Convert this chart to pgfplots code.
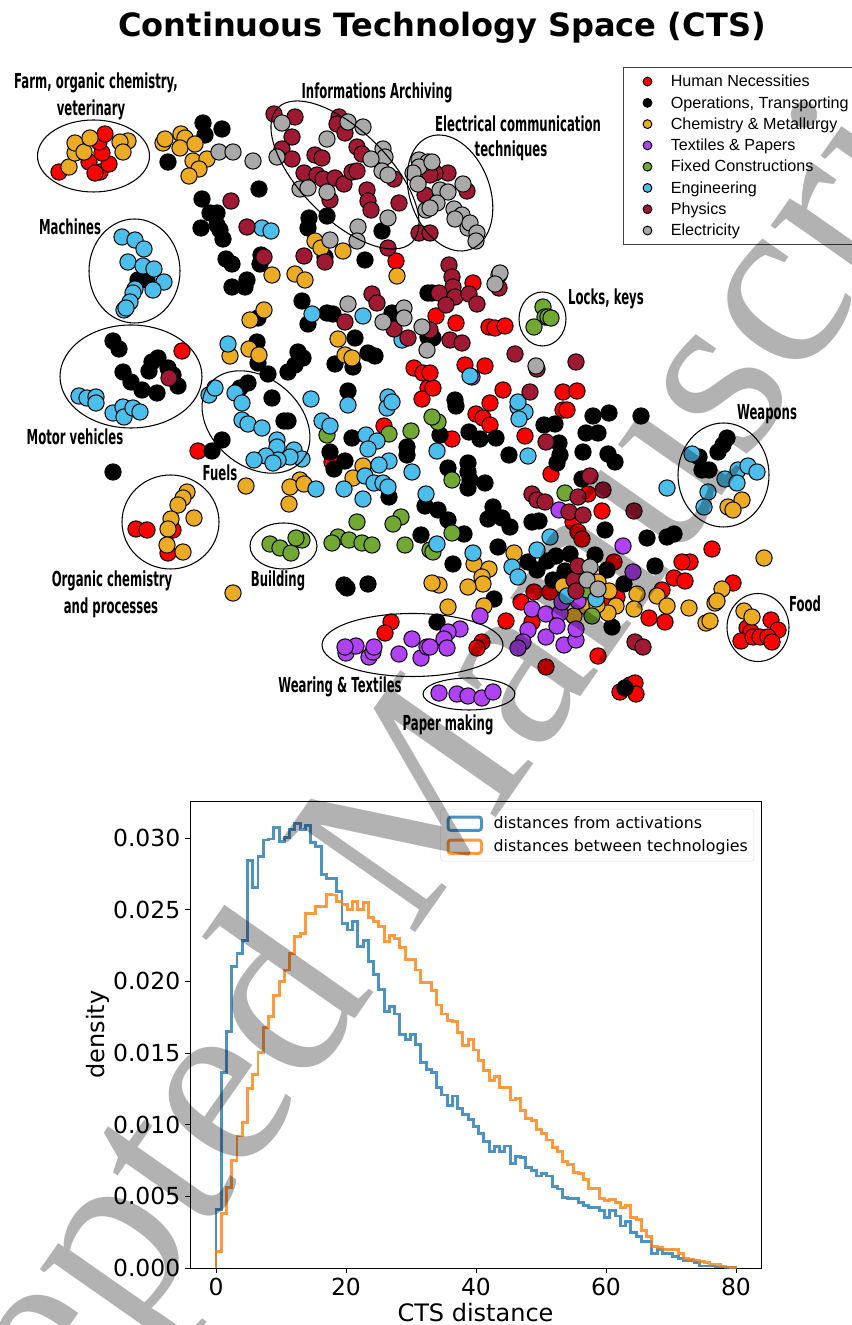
\documentclass[border=0pt]{standalone}
\usepackage{fontspec}
\usepackage{pgfplots}
\pgfplotsset{compat=1.18}
\setmainfont{DejaVu Sans}
\newfontfamily\labf[FakeStretch=0.565]{DejaVu Sans Bold}
\newfontfamily\legf{Liberation Sans}
\newfontfamily\wmf{Liberation Serif}
\definecolor{cRed}{HTML}{FF0000}
\definecolor{cOra}{HTML}{EBAC23}
\definecolor{cPur}{HTML}{B041F5}
\definecolor{cGre}{HTML}{70A832}
\definecolor{cBlu}{HTML}{4BBEEB}
\definecolor{cPhy}{HTML}{A01932}
\definecolor{cGra}{HTML}{A9A9A9}
\definecolor{hBlue}{HTML}{1F77B4}
\definecolor{hOrange}{HTML}{FF7F0E}
\newcommand{\leg}[1]{\makebox[190pt][l]{#1}}
\newcommand{\lab}[3]{\node[font=\labf\fontsize{15.5}{15.5}\selectfont,inner sep=0pt,yshift=-1.5pt] at (#1,#2) {#3};}
\newcommand{\ring}[5]{\draw[line width=0.8pt,shift={(#1,#2)},rotate=#5] (0,0) ellipse [x radius=#3,y radius=#4];}
\pgfplotsset{dots/.style={only marks,mark=*,mark size=6.1pt,mark options={fill=#1,draw=black,line width=0.75pt}}}
\begin{document}
\begin{tikzpicture}
\useasboundingbox (0,0) rectangle (639pt,993.75pt);
% scatter, in the pixel coordinates of the reference
\begin{axis}[
  at={(0,0)},anchor=south west,
  width=639pt,height=993.75pt,scale only axis,
  xmin=0,xmax=852,ymin=0,ymax=1325,y dir=reverse,
  hide axis,clip=false,
  legend image code/.code={\path[#1,draw=none,mark size=3.3pt] plot coordinates {(0pt,0pt)};\path[draw=none] (-10pt,0pt) -- (10pt,0pt);},
  legend cell align=left,
  legend style={at={(axis cs:623,67)},anchor=north west,font=\legf\fontsize{12.1}{12.1}\selectfont,
    draw=black!75,line width=0.7pt,fill=white,inner xsep=8pt,inner ysep=2.6pt,row sep=0pt,column sep=7.5pt,
    nodes={inner xsep=0pt,inner ysep=0pt,text height=11.9pt,text depth=4.06pt}},
]
\addplot[dots=cRed] coordinates {(59,172)(89,162)(100,172)(95,173)(109,164)(102,153)(99,142)(105,134)
(396,261)(182,351)(198,451)(414,368)(423,373)(428,388)(422,399)(384,426)(332,462)(136,529)(147,530)(173,530)(168,553)(391,622)(385,633)
(476,414)(483,418)(490,425)(490,403)(525,436)(563,410)(567,410)(452,439)(551,474)(588,494)(602,511)(573,522)(578,532)(582,539)
(473,283)(436,316)(456,323)(489,327)(495,328)(505,326)(465,365)(485,366)(503,390)(563,392)(577,391)(433,388)(430,373)
(712,549)(690,562)(682,562)(674,578)(685,581)(733,583)(662,590)(649,618)(665,622)
(771,620)(778,630)(747,628)(751,632)(741,641)(753,637)(760,637)(768,637)(772,642)
(506,621)(521,602)(534,592)(550,592)(532,622)(614,562)(617,597)(606,598)(598,656)(546,667)(482,642)(477,648)
(620,692)(630,685)(635,683)(636,694)};
\addlegendentry{\leg{Human Necessities}}
\addplot[dots=black] coordinates {(203,123)(205,135)(222,129)(168,162)(259,189)(202,199)(210,213)(217,213)(201,228)(217,225)(220,230)(223,239)(226,259)(232,264)(261,255)(260,264)(247,280)(232,287)(245,287)(302,301)(308,324)(327,313)(333,314)(392,313)(428,293)(428,337)(355,338)(335,364)(353,367)(368,353)(375,356)(348,391)(327,216)(309,218)(308,228)(382,231)(325,257)(365,260)(138,280)(147,280)
(113,341)(119,349)(152,362)(158,358)(149,371)(168,368)(173,375)(178,386)(123,372)(131,382)(142,390)(157,393)
(240,388)(248,383)(272,398)(268,374)(258,363)(257,342)(288,372)(295,365)(298,352)(303,358)(258,318)(284,421)(288,421)(222,440)(212,451)(330,452)(345,461)(334,469)(352,438)(407,447)(407,455)(389,497)(425,506)(421,535)(344,585)(347,588)(368,584)(113,472)
(456,406)(593,416)(609,413)(641,416)(544,425)(555,424)(586,433)(598,433)(440,435)(469,432)(480,439)(496,438)(559,443)(560,455)(557,463)(509,455)(583,452)(608,454)(615,462)(448,468)(468,463)(468,472)(470,480)(468,488)(485,483)(582,479)(605,530)(438,510)(448,520)(493,507)(488,519)(502,518)(510,527)(532,522)(539,521)(464,534)(498,547)(528,562)(537,570)(547,561)(556,556)(570,554)(595,555)(553,580)(565,571)(607,570)(624,584)(647,538)(667,537)(674,534)(655,566)
(727,438)(723,445)(718,452)(699,457)(702,470)(709,470)
(453,564)(494,599)(437,622)(612,627)(625,688)(432,293)(433,338)(455,400)};
\addlegendentry{\leg{Operations, Transporting}}
\addplot[dots=cOra] coordinates {(69,167)(75,153)(75,143)(84,152)(90,138)(128,141)(120,142)(123,152)
(163,143)(165,139)(181,134)(185,138)(180,148)(195,144)(193,161)(207,159)(199,169)(189,176)
(272,275)(295,274)(305,280)(338,339)(345,355)(352,358)(315,241)(321,248)(343,251)(397,276)(249,349)(259,355)(230,356)(250,320)(264,310)
(246,486)(300,480)(290,487)(304,484)(289,504)(363,466)(353,478)(233,593)
(187,492)(183,498)(178,505)(171,519)(194,518)(168,529)(167,545)(183,552)
(742,500)(728,507)(733,510)(764,558)(722,589)(715,603)(717,601)(689,608)(657,596)(667,606)(706,623)(710,621)(744,611)(752,617)
(514,553)(474,564)(489,569)(482,577)(483,584)(468,587)(439,585)(432,583)(484,606)(448,607)(574,616)(563,586)(598,582)(609,591)(616,606)(608,613)(587,607)(597,605)(637,594)(634,609)};
\addlegendentry{\leg{Chemistry \& Metallurgy}}
\addplot[dots=cPur] coordinates {(346,653)(356,646)(345,647)(369,657)(373,652)(374,647)(399,654)(412,639)(421,658)(427,647)(460,629)(448,632)(444,639)(447,648)(430,647)
(439,693)(457,694)(468,696)(482,698)(493,692)
(559,510)(623,546)(633,572)(480,616)(532,609)(546,614)(560,613)(562,602)(528,630)(523,642)(518,648)(546,637)(557,626)(564,645)(576,640)(576,629)(578,601)(472,377)};
\addlegendentry{\leg{Textiles \& Papers}}
\addplot[dots=cGre] coordinates {(543,307)(545,317)(548,317)(551,318)(534,327)
(327,435)(389,434)(411,431)(357,522)(401,517)(393,524)(405,545)(430,550)(338,537)(332,543)(349,540)(362,543)(372,545)(270,544)(280,548)(291,553)(302,540)(296,538)
(438,422)(432,417)(452,480)(565,493)(452,533)(433,552)(592,616)(587,590)};
\addlegendentry{\leg{Fixed Constructions}}
\addplot[dots=cBlu] coordinates {(262,228)(271,231)(312,314)(363,316)(402,340)(228,344)(311,399)(388,397)(122,237)(135,240)(144,249)(128,262)(143,266)(154,269)(164,282)(153,290)(135,289)(133,293)(130,302)(124,310)(126,308)
(79,396)(87,398)(96,397)(96,403)(113,413)(123,407)(124,417)(133,408)(140,412)
(209,395)(215,388)(235,393)(242,403)(242,420)(248,424)(262,428)(277,440)(277,447)(294,450)(302,459)(290,457)(278,460)(266,456)(254,460)(273,463)
(316,489)(322,421)(330,426)(348,405)(366,435)(377,441)(368,449)(387,408)(392,402)(389,461)(379,465)(365,476)(374,483)(383,483)(388,487)(344,489)(363,499)(412,472)(426,494)
(518,407)(525,412)(519,419)(528,456)(437,451)(667,488)(550,537)(537,550)(470,376)(518,402)
(692,454)(725,479)(738,470)(748,466)(757,472)(737,483)(708,492)(704,507)
(473,553)(437,544)(512,567)(518,577)(567,596)(596,599)};
\addlegendentry{\leg{Engineering}}
\addplot[dots=cPhy] coordinates {(231,201)(247,227)(264,257)(345,322)(372,294)(377,303)(394,329)(408,338)
(274,114)(295,117)(292,137)(339,117)(337,124)(345,133)(282,149)(292,159)(315,155)(322,158)(357,147)(362,154)(394,179)(304,173)(317,175)(323,179)(335,178)(344,184)(352,172)(357,171)(330,200)(367,190)(368,201)(371,210)(399,203)(304,256)(325,262)(388,248)(419,233)(430,233)
(448,173)(435,173)(467,191)(425,195)(430,175)
(449,265)(452,277)(453,287)(439,293)(455,297)(469,294)(477,304)(446,305)(499,288)(430,330)(450,340)(462,343)(515,354)(537,369)(576,362)(530,392)(169,378)
(546,442)(590,476)(532,494)(537,500)(545,502)(603,490)(578,497)(569,512)(583,515)(634,511)
(574,580)(576,591)(578,566)(635,642)(643,647)};
\addlegendentry{\leg{Physics}}
\addplot[dots=cGra] coordinates {(219,152)(233,152)(253,161)(282,123)(348,122)(363,127)(327,139)(277,157)(383,149)(385,157)(371,159)(382,171)(388,175)(300,189)(308,188)(327,192)(388,218)(358,227)(357,241)(330,240)(348,304)(383,322)(404,308)(404,318)(422,327)(427,350)
(419,160)(428,162)(419,167)(413,173)(418,184)(426,210)(432,162)(463,184)(440,190)(448,192)(437,203)(430,208)(454,209)(462,215)(455,219)(468,228)(470,223)(477,233)(476,241)
(499,275)(500,273)(495,284)(536,366)(590,567)(587,580)(598,589)};
\addlegendentry{\leg{Electricity}}
\end{axis}
% ovals and labels over the scatter
\begin{scope}[shift={(0pt,993.75pt)},x=0.75pt,y=-0.75pt]
\ring{93.5}{156}{56}{36}{0}
\ring{134.5}{271}{45.5}{52}{0}
\ring{131}{376.5}{71}{51.5}{0}
\ring{256}{422}{60}{44}{-40}
\ring{345}{175}{95}{44}{-45}
\ring{450}{193}{60}{40}{-70}
\ring{170.5}{522}{48.5}{47}{0}
\ring{283.5}{546}{33.5}{23}{0}
\ring{412.5}{645}{90.5}{31.5}{0}
\ring{469}{694}{46}{16}{0}
\ring{758}{627.5}{31}{34}{0}
\ring{723.5}{475}{45.5}{52}{0}
\ring{542.5}{319}{23.5}{27}{0}
\lab{96}{81}{Farm, organic chemistry,}
\lab{91}{108}{veterinary}
\lab{377}{91}{Informations Archiving}
\lab{518}{122}{Electrical communication}
\lab{511}{149}{techniques}
\lab{70}{225}{Machines}
\lab{75}{435}{Motor vehicles}
\lab{220}{471}{Fuels}
\lab{112}{579}{Organic chemistry}
\lab{111}{606}{and processes}
\lab{278}{579}{Building}
\lab{340}{685}{Wearing \& Textiles}
\lab{448}{723}{Paper making}
\lab{606}{297}{Locks, keys}
\lab{767}{412}{Weapons}
\lab{805}{602}{Food}
\node[font=\bfseries\fontsize{24.07}{24.07}\selectfont,inner sep=0pt] at (442,28) {Continuous Technology Space (CTS)};
\end{scope}
% histograms
\begin{axis}[
  at={(142.5pt,42.75pt)},anchor=south west,
  width=428.25pt,height=350.25pt,scale only axis,
  xmin=-4,xmax=83.85,ymin=0,ymax=0.03258,
  xtick={0,20,40,60,80},
  ytick={0,0.005,0.01,0.015,0.02,0.025,0.03},
  scaled y ticks=false,
  yticklabel style={/pgf/number format/fixed,/pgf/number format/precision=3,/pgf/number format/fixed zerofill},
  /pgf/number format/assume math mode=true,
  tick label style={font=\fontsize{17.6}{17.6}\selectfont},
  label style={font=\fontsize{18}{18}\selectfont},
  xlabel={CTS distance},ylabel={density},
  xlabel style={yshift=1pt},ylabel style={yshift=-4.5pt},
  tick align=outside,xtick pos=bottom,ytick pos=left,
  major tick length=3.75pt,
  every tick/.style={black,line width=0.6pt},
  axis line style={line width=0.6pt},
  legend image code/.code={\draw[#1] (0pt,-5pt) rectangle (25pt,5pt);},
  legend cell align=left,
  legend style={anchor=north east,at={(0.988,0.983)},font=\fontsize{11.85}{11.85}\selectfont,
    draw=black!15,rounded corners=2pt,fill=white,fill opacity=0.8,text opacity=1,draw opacity=0.8,inner xsep=4.5pt,inner ysep=2.25pt,row sep=0pt,column sep=8pt,
    nodes={inner xsep=0pt,inner ysep=0pt,text height=12.5pt,text depth=4.75pt}},
]
\addplot[const plot,hBlue,opacity=0.8,line width=2.2pt] coordinates {(0,0)(0,0.0041)(0.81,0.01363)(1.62,0.01649)(2.42,0.02102)(3.23,0.02195)(4.04,0.02284)(4.85,0.0284)(5.66,0.02656)(6.46,0.0287)(7.27,0.02986)(8.08,0.02993)(8.89,0.03074)(9.7,0.02974)(10.51,0.03002)(11.31,0.0306)(12.12,0.03098)(12.93,0.0306)(13.74,0.03084)(14.55,0.02967)(15.35,0.0294)(16.16,0.02742)(16.97,0.02719)(17.78,0.02719)(18.59,0.02626)(19.39,0.02405)(20.2,0.02358)(21.01,0.02416)(21.82,0.02242)(22.63,0.02284)(23.43,0.02137)(24.24,0.02049)(25.05,0.0194)(25.86,0.01788)(26.67,0.01823)(27.47,0.01772)(28.28,0.01626)(29.09,0.01595)(29.9,0.01626)(30.71,0.01556)(31.52,0.01435)(32.32,0.01386)(33.13,0.01365)(33.94,0.01258)(34.75,0.01207)(35.56,0.01133)(36.36,0.012)(37.17,0.01114)(37.98,0.01074)(38.79,0.01033)(39.6,0.00986)(40.4,0.0094)(41.21,0.00881)(42.02,0.00816)(42.83,0.00845)(43.64,0.00812)(44.44,0.00851)(45.25,0.00726)(46.06,0.00781)(46.87,0.00772)(47.68,0.00702)(48.48,0.00679)(49.29,0.00642)(50.1,0.0066)(50.91,0.00642)(51.72,0.00567)(52.53,0.00551)(53.33,0.00493)(54.14,0.00486)(54.95,0.00486)(55.76,0.00456)(56.57,0.00435)(57.37,0.00423)(58.18,0.00423)(58.99,0.004)(59.8,0.00353)(60.61,0.004)(61.41,0.00363)(62.22,0.00293)(63.03,0.00323)(63.84,0.00247)(64.65,0.00219)(65.45,0.00184)(66.26,0.00184)(67.07,0.00102)(67.88,0.00126)(68.69,0.00098)(69.49,0.00098)(70.3,0.00079)(71.11,0.00067)(71.92,0.00051)(72.73,0.00051)(73.54,0.00037)(74.34,0.00014)(75.15,0.00014)(75.96,0.00014)(76.77,0.00007)(77.58,0.00007)(78.38,0.00002)(79.19,0.00001)(80,0)};
\addlegendentry{distances from activations}
\addplot[const plot,hOrange,opacity=0.8,line width=2.2pt] coordinates {(0,0)(0,0.00114)(0.81,0.00381)(1.62,0.0056)(2.42,0.00753)(3.23,0.00921)(4.04,0.01014)(4.85,0.01253)(5.66,0.01347)(6.46,0.01505)(7.27,0.01677)(8.08,0.01753)(8.89,0.01898)(9.7,0.01998)(10.51,0.02079)(11.31,0.02191)(12.12,0.02312)(12.93,0.02335)(13.74,0.02474)(14.55,0.02474)(15.35,0.02521)(16.16,0.02521)(16.97,0.02607)(17.78,0.02602)(18.59,0.02556)(19.39,0.02533)(20.2,0.02502)(21.01,0.02556)(21.82,0.02498)(22.63,0.02549)(23.43,0.02447)(24.24,0.02416)(25.05,0.02381)(25.86,0.02277)(26.67,0.02319)(27.47,0.023)(28.28,0.02237)(29.09,0.02149)(29.9,0.02153)(30.71,0.02079)(31.52,0.01993)(32.32,0.01993)(33.13,0.01933)(33.94,0.01835)(34.75,0.01772)(35.56,0.01726)(36.36,0.01719)(37.17,0.01642)(37.98,0.01551)(38.79,0.01591)(39.6,0.01521)(40.4,0.01447)(41.21,0.01381)(42.02,0.01305)(42.83,0.01335)(43.64,0.0126)(44.44,0.0126)(45.25,0.01172)(46.06,0.01184)(46.87,0.01102)(47.68,0.01044)(48.48,0.01028)(49.29,0.00967)(50.1,0.0094)(50.91,0.00893)(51.72,0.00842)(52.53,0.00816)(53.33,0.00742)(54.14,0.00719)(54.95,0.00665)(55.76,0.0066)(56.57,0.00619)(57.37,0.00556)(58.18,0.00556)(58.99,0.00486)(59.8,0.00474)(60.61,0.00479)(61.41,0.00456)(62.22,0.00423)(63.03,0.00433)(63.84,0.00351)(64.65,0.0034)(65.45,0.0026)(66.26,0.00223)(67.07,0.00153)(67.88,0.00144)(68.69,0.00126)(69.49,0.00126)(70.3,0.00126)(71.11,0.00098)(71.92,0.00067)(72.73,0.0006)(73.54,0.00056)(74.34,0.00044)(75.15,0.00037)(75.96,0.00028)(76.77,0.00023)(77.58,0.00014)(78.38,0.00007)(79.19,0.00005)(80,0)};
\addlegendentry{distances between technologies}
\end{axis}
% watermark
\node[rotate=55,text=black,text opacity=0.3,inner sep=0pt,font=\wmf\fontsize{186}{186}\selectfont] at (300pt,355.5pt) {Accepted Manuscript};
\end{tikzpicture}
\end{document}
